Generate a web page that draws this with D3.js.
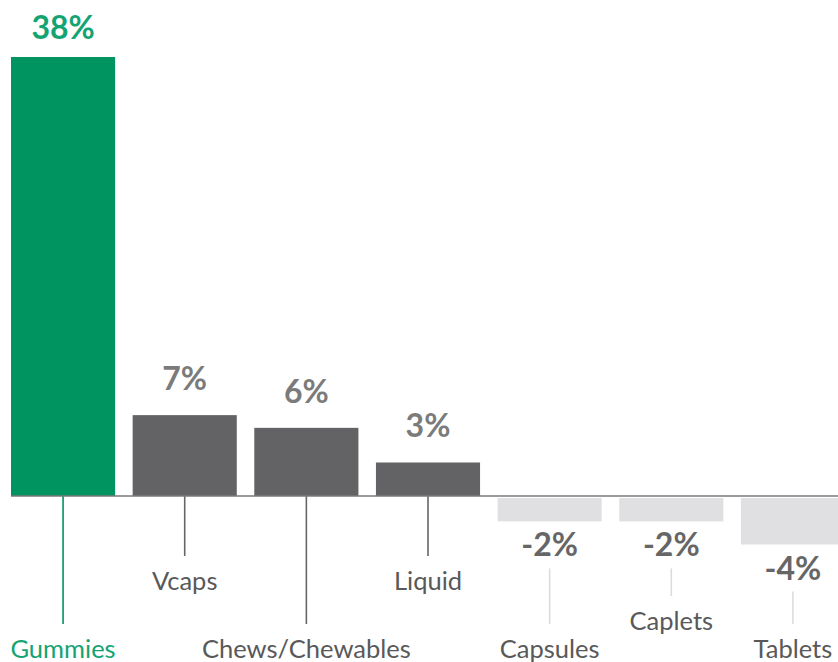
<!DOCTYPE html>
<html>
<head>
<meta charset="utf-8">
<script src="https://cdn.jsdelivr.net/npm/d3@7"></script>
<style>
  body { margin: 0; background: #fff; }
  svg text { font-family: Lato, "Open Sans", sans-serif; }
</style>
</head>
<body>
<div id="chart"></div>
<script>
// chart data
const categories = ["Gummies", "Vcaps", "Chews/Chewables", "Liquid", "Capsules", "Caplets", "Tablets"];
const values = [38, 7, 5.9, 2.9, -2.2, -2.2, -4.2];
const valueLabels = ["38%", "7%", "6%", "3%", "-2%", "-2%", "-4%"];

const width = 838, height = 662;
const zeroY = 496;

const svg = d3.select("#chart")
    .append("svg")
    .attr("width", width)
    .attr("height", height);

const x = d3.scaleBand()
    .domain(categories)
    .range([11, 845])
    .paddingInner(0.144)
    .paddingOuter(0);

const y = d3.scaleLinear()
    .domain([0, 38])
    .range([zeroY, 57]);

// label layout: baseline of category label per bar
const labelY = [658, 590, 658, 590, 658, 630, 658];

function barColor(d, i) {
    if (i == 0) return "#009460";
    return d < 0 ? "#e0e0e2" : "#636365";
}

// leader lines
svg.selectAll(".leader")
    .data(values)
    .enter()
    .append("line")
    .attr("class", "leader")
    .attr("x1", (d, i) => x(categories[i]) + x.bandwidth() / 2)
    .attr("x2", (d, i) => x(categories[i]) + x.bandwidth() / 2)
    .attr("y1", (d) => d < 0 ? y(d) + 47 : zeroY)
    .attr("y2", (d, i) => labelY[i] - 34)
    .attr("stroke", (d, i) => i == 0 ? "#009460" : (d < 0 ? "#dcdcdc" : "#666"))
    .attr("stroke-width", 1.6);

// bars
svg.selectAll(".bar")
    .data(values)
    .enter()
    .append("rect")
    .attr("class", "bar")
    .attr("x", (d, i) => x(categories[i]))
    .attr("width", x.bandwidth())
    .attr("y", (d) => d < 0 ? zeroY + 2 : y(d))
    .attr("height", (d) => d < 0 ? y(d) - zeroY - 2 : zeroY - y(d))
    .attr("fill", barColor);

// baseline
svg.append("line")
    .attr("x1", 11)
    .attr("x2", width)
    .attr("y1", zeroY)
    .attr("y2", zeroY)
    .attr("stroke", "#7a7a7a")
    .attr("stroke-width", 1.6);

// value labels
svg.selectAll(".value")
    .data(values)
    .enter()
    .append("text")
    .attr("class", "value")
    .attr("x", (d, i) => x(categories[i]) + x.bandwidth() / 2)
    .attr("y", (d) => d < 0 ? y(d) + 35 : Math.max(39, y(d) - 25))
    .attr("text-anchor", "middle")
    .attr("font-size", "32px")
    .attr("font-weight", "bold")
    .attr("fill", (d, i) => i == 0 ? "#14a373" : (d < 0 ? "#666" : "#7b7b7b"))
    .text((d, i) => valueLabels[i]);

// category labels
svg.selectAll(".cat")
    .data(categories)
    .enter()
    .append("text")
    .attr("class", "cat")
    .attr("x", (d) => x(d) + x.bandwidth() / 2)
    .attr("y", (d, i) => labelY[i])
    .attr("text-anchor", "middle")
    .attr("font-size", "25.5px")
    .attr("fill", (d, i) => i == 0 ? "#14a373" : "#595959")
    .text(d => d);
</script>
</body>
</html>
